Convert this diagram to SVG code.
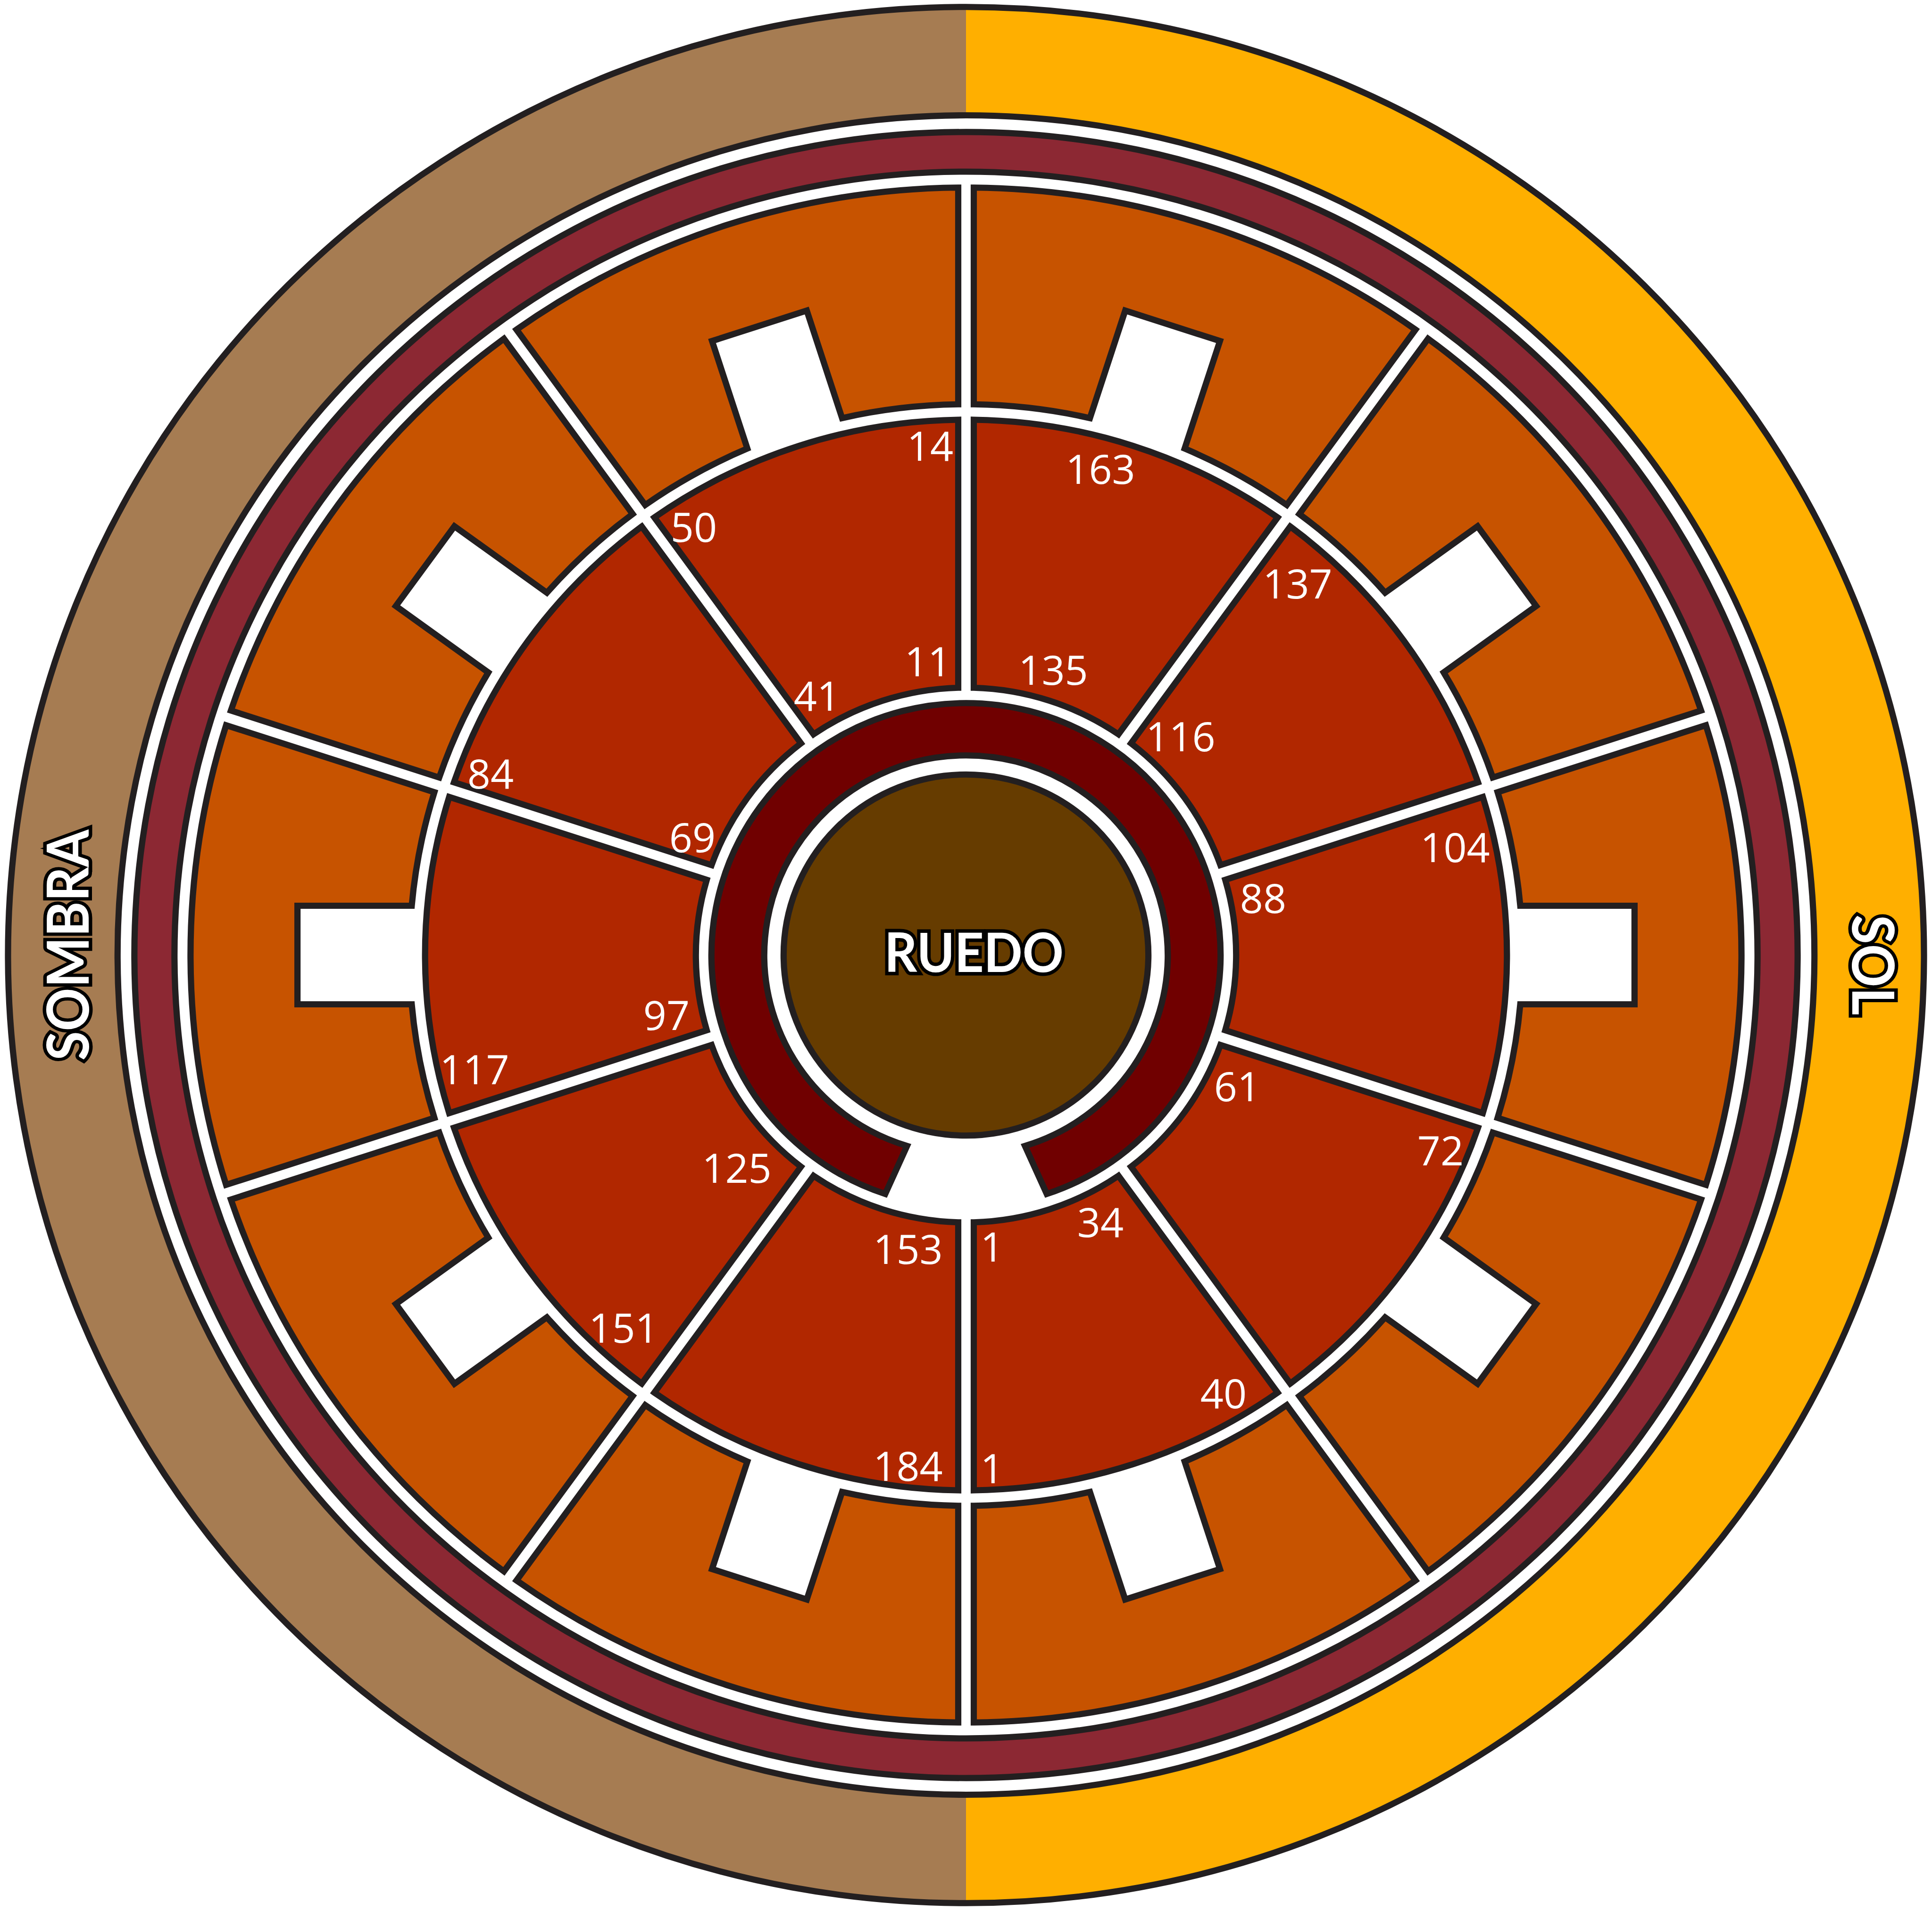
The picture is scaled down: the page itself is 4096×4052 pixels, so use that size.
<svg xmlns="http://www.w3.org/2000/svg" xmlns:xlink="http://www.w3.org/1999/xlink" width="4096" height="4052" viewBox="0 0 4096 4052">
<style>
.ln{stroke:#231F20;stroke-width:5}
.red{fill:#B12700;stroke:#231F20;stroke-width:5;stroke-linejoin:miter}
.org{fill:#C75300;stroke:#231F20;stroke-width:5;stroke-linejoin:miter}
.num{font-family:"Open Sans","Liberation Sans",sans-serif;font-size:86px;fill:#FFFFFF;text-anchor:middle}
.big{font-family:"Lato","Liberation Sans",sans-serif;font-weight:bold;fill:#FFFFFF;stroke:#000000;stroke-width:15;paint-order:stroke;stroke-linejoin:miter;text-anchor:middle}
</style>
<defs>
<path id="redSec" d="M61.085,-208.226 L128.31,-415.124 A434.5,434.5 0 0 0 -128.31,-415.124 L-61.085,-208.226 A217,217 0 0 1 61.085,-208.226 Z"/>
<path id="orgSec" d="M132.174,-427.012 L186.533,-594.313 A622.9,622.9 0 0 0 -186.533,-594.313 L-132.174,-427.012 A447,447 0 0 1 -40,-445.21 L-40,-537 L40,-537 L40,-445.21 A447,447 0 0 1 132.174,-427.012 Z"/>
</defs>
<rect width="4096" height="4052" fill="#FFFFFF"/>
<g id="rings" transform="translate(2048,2025) scale(2.6394,2.6125)">
<circle r="769.5" fill="#FFAF00"/>
<path d="M0,-769.5 A769.5,769.5 0 0 0 0,769.5 Z" fill="#A67C52"/>
<circle r="769.5" fill="none" class="ln"/>
<circle r="681.5" fill="#FFFFFF" class="ln"/>
<circle r="668" fill="#8C2833" class="ln"/>
<circle r="635.8" fill="#FFFFFF" class="ln"/>
</g>
<g id="sector-A">
<g transform="translate(2048,2025) scale(2.6394,2.6125) rotate(-18)"><use xlink:href="#orgSec" class="org"/><use xlink:href="#redSec" class="red"/></g>
<text class="num" x="1972" y="977">14</text><text class="num" x="1471" y="1149">50</text><text class="num" x="1732" y="1507">41</text><text class="num" x="1967" y="1434">11</text>
</g>
<g id="sector-B">
<g transform="translate(2048,2025) scale(2.6394,2.6125) rotate(-54)"><use xlink:href="#orgSec" class="org"/><use xlink:href="#redSec" class="red"/></g>
<text class="num" x="1040" y="1672">84</text><text class="num" x="1468" y="1807">69</text>
</g>
<g id="sector-C">
<g transform="translate(2048,2025) scale(2.6394,2.6125) rotate(-90)"><use xlink:href="#orgSec" class="org"/><use xlink:href="#redSec" class="red"/></g>
<text class="num" x="1006" y="2299">117</text><text class="num" x="1413" y="2184">97</text>
</g>
<g id="sector-D">
<g transform="translate(2048,2025) scale(2.6394,2.6125) rotate(-126)"><use xlink:href="#orgSec" class="org"/><use xlink:href="#redSec" class="red"/></g>
<text class="num" x="1562" y="2508">125</text><text class="num" x="1322" y="2847">151</text>
</g>
<g id="sector-E">
<g transform="translate(2048,2025) scale(2.6394,2.6125) rotate(-162)"><use xlink:href="#orgSec" class="org"/><use xlink:href="#redSec" class="red"/></g>
<text class="num" x="1925" y="2680">153</text><text class="num" x="1925" y="3140">184</text>
</g>
<g id="sector-F">
<g transform="translate(2048,2025) scale(2.6394,2.6125) rotate(162)"><use xlink:href="#orgSec" class="org"/><use xlink:href="#redSec" class="red"/></g>
<text class="num" x="2103" y="2675">1</text><text class="num" x="2333" y="2623">34</text><text class="num" x="2103" y="3145">1</text><text class="num" x="2594" y="2986">40</text>
</g>
<g id="sector-G">
<g transform="translate(2048,2025) scale(2.6394,2.6125) rotate(126)"><use xlink:href="#orgSec" class="org"/><use xlink:href="#redSec" class="red"/></g>
<text class="num" x="2623" y="2335">61</text><text class="num" x="3054" y="2471">72</text>
</g>
<g id="sector-H">
<g transform="translate(2048,2025) scale(2.6394,2.6125) rotate(90)"><use xlink:href="#orgSec" class="org"/><use xlink:href="#redSec" class="red"/></g>
<text class="num" x="3085" y="1828">104</text><text class="num" x="2678" y="1936">88</text>
</g>
<g id="sector-I">
<g transform="translate(2048,2025) scale(2.6394,2.6125) rotate(54)"><use xlink:href="#orgSec" class="org"/><use xlink:href="#redSec" class="red"/></g>
<text class="num" x="2751" y="1269">137</text><text class="num" x="2503" y="1593">116</text>
</g>
<g id="sector-J">
<g transform="translate(2048,2025) scale(2.6394,2.6125) rotate(18)"><use xlink:href="#orgSec" class="org"/><use xlink:href="#redSec" class="red"/></g>
<text class="num" x="2333" y="1026">163</text><text class="num" x="2233" y="1452">135</text>
</g>
<g id="callejon" transform="translate(2048,2025) scale(2.6394,2.6125)">
<path d="M-64.89,193.93 A204.5,204.5 0 1 1 64.89,193.93 L47.37,154.92 A162,162 0 1 0 -47.37,154.92 Z" fill="#700000" class="ln"/>
</g>
<g id="ruedo">
<g transform="translate(2048,2025) scale(2.6394,2.6125)"><circle r="146.5" fill="#663C00" class="ln"/></g>
<text class="big" x="2065" y="2061" font-size="114" textLength="380" lengthAdjust="spacingAndGlyphs">RUEDO</text>
</g>
<g id="sombra">
<text class="big" transform="translate(188,2004) rotate(-90)" x="0" y="0" font-size="122" textLength="490" lengthAdjust="spacingAndGlyphs">SOMBRA</text>
</g>
<g id="sol">
<text class="big" transform="translate(3927,2046) rotate(90)" x="0" y="0" font-size="122" textLength="213" lengthAdjust="spacingAndGlyphs">SOL</text>
</g>
</svg>
